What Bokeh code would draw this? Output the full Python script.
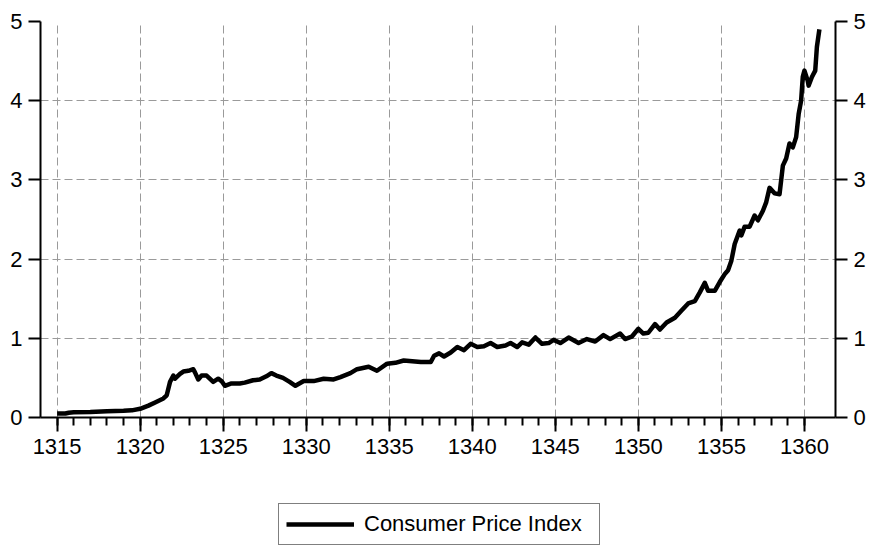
from bokeh.plotting import figure
from bokeh.models import Range1d, LinearAxis, FixedTicker, Legend, LegendItem
from bokeh.layouts import column
from bokeh.embed import file_html
from bokeh.resources import INLINE

# ---- data ----
years = [1315.0, 1315.5, 1315.7, 1316.0, 1317.0, 1318.0, 1319.0, 1319.5, 1320.0, 1320.5,
         1320.9, 1321.4, 1321.6, 1321.8, 1322.0, 1322.1, 1322.4, 1322.6, 1322.9, 1323.2,
         1323.3, 1323.5, 1323.7, 1324.0, 1324.4, 1324.7, 1324.9, 1325.1, 1325.5, 1326.0,
         1326.3, 1326.8, 1327.2, 1327.6, 1327.9, 1328.2, 1328.6, 1329.0, 1329.35, 1329.85,
         1330.45, 1331.05, 1331.65, 1332.06, 1332.66, 1333.06, 1333.76, 1334.26, 1334.87, 1335.37,
         1335.87, 1336.38, 1336.9, 1337.5, 1337.7, 1338.0, 1338.3, 1338.7, 1339.1, 1339.5,
         1339.9, 1340.3, 1340.7, 1341.1, 1341.5, 1342.0, 1342.3, 1342.7, 1343.0, 1343.4,
         1343.8, 1344.2, 1344.6, 1344.9, 1345.3, 1345.8, 1346.4, 1346.9, 1347.4, 1347.9,
         1348.3, 1348.9, 1349.2, 1349.6, 1350.0, 1350.3, 1350.6, 1351.0, 1351.3, 1351.7,
         1352.2, 1352.6, 1353.0, 1353.4, 1353.7, 1354.0, 1354.2, 1354.6, 1354.9, 1355.2,
         1355.4, 1355.6, 1355.8, 1356.1, 1356.2, 1356.4, 1356.7, 1357.0, 1357.2, 1357.5,
         1357.7, 1357.9, 1358.2, 1358.5, 1358.7, 1358.9, 1359.1, 1359.3, 1359.5, 1359.65,
         1359.8, 1359.9, 1360.0, 1360.2, 1360.25, 1360.45, 1360.65, 1360.75, 1360.9]
cpi = [0.05, 0.05, 0.06, 0.065, 0.07, 0.08, 0.085, 0.09, 0.11, 0.15,
       0.19, 0.24, 0.28, 0.45, 0.53, 0.49, 0.55, 0.58, 0.59, 0.61,
       0.57, 0.48, 0.53, 0.53, 0.45, 0.49, 0.46, 0.40, 0.43, 0.43,
       0.44, 0.47, 0.48, 0.52, 0.56, 0.53, 0.50, 0.45, 0.40, 0.46,
       0.46, 0.49, 0.48, 0.51, 0.56, 0.61, 0.64, 0.59, 0.68, 0.69,
       0.72, 0.71, 0.70, 0.70, 0.78, 0.81, 0.77, 0.82, 0.89, 0.85,
       0.93, 0.89, 0.90, 0.94, 0.89, 0.91, 0.94, 0.89, 0.95, 0.92,
       1.01, 0.93, 0.94, 0.98, 0.94, 1.01, 0.94, 0.99, 0.96, 1.04,
       0.99, 1.06, 0.99, 1.02, 1.12, 1.06, 1.07, 1.18, 1.11, 1.20,
       1.26, 1.35, 1.44, 1.47, 1.58, 1.70, 1.60, 1.60, 1.71, 1.81,
       1.86, 1.98, 2.19, 2.36, 2.30, 2.41, 2.41, 2.55, 2.49, 2.61,
       2.72, 2.90, 2.83, 2.82, 3.18, 3.27, 3.46, 3.41, 3.54, 3.83,
       4.00, 4.30, 4.38, 4.25, 4.19, 4.30, 4.38, 4.68, 4.90]
series_label = "Consumer Price Index"
x_major_ticks = [1315, 1320, 1325, 1330, 1335, 1340, 1345, 1350, 1355, 1360]
x_minor_ticks = list(range(1315, 1361))
y_ticks = [0, 1, 2, 3, 4, 5]
y_grid_ticks = [1, 2, 3, 4]

FONT = "Liberation Sans"
FS = "22px"
LINE_W = 4.5

p = figure(frame_width=795, frame_height=396,
           x_range=Range1d(1314.0, 1361.87), y_range=Range1d(0, 5),
           output_backend="svg", toolbar_location=None,
           min_border_left=40, min_border_right=39,
           min_border_top=21, min_border_bottom=66)
p.outline_line_color = None
p.background_fill_color = "white"
p.border_fill_color = "white"

r = p.line(years, cpi, line_color="black", line_width=LINE_W, line_join="round")

# x axis
xa = p.xaxis[0]
xa.ticker = FixedTicker(ticks=x_major_ticks, minor_ticks=x_minor_ticks)
xa.axis_line_width = 2
xa.major_tick_in = 0
xa.major_tick_out = 14
xa.major_tick_line_width = 2
xa.minor_tick_in = 0
xa.minor_tick_out = 8
xa.minor_tick_line_width = 2
xa.major_label_text_font = FONT
xa.major_label_text_font_size = FS
xa.major_label_text_color = "black"
xa.major_label_standoff = 7

def style_y(ax):
    ax.ticker = FixedTicker(ticks=y_ticks)
    ax.axis_line_width = 2
    ax.major_tick_in = 0
    ax.major_tick_out = 12
    ax.major_tick_line_width = 2
    ax.minor_tick_line_color = None
    ax.major_label_text_font = FONT
    ax.major_label_text_font_size = FS
    ax.major_label_text_color = "black"
    ax.major_label_standoff = 6

style_y(p.yaxis[0])
ra = LinearAxis()
style_y(ra)
p.add_layout(ra, "right")

# grids
p.xgrid.ticker = FixedTicker(ticks=x_major_ticks)
p.ygrid.ticker = FixedTicker(ticks=y_grid_ticks)
for g in (p.xgrid[0], p.ygrid[0]):
    g.grid_line_color = "#9a9a9a"
    g.grid_line_dash = "8 4"
    g.grid_line_width = 1

# ---- legend strip below the chart ----
# The strip's ranges do not include the data, so its copy of the series stays
# out of sight and only serves the legend entry.
p2 = figure(width=874, height=73, x_range=Range1d(0, 1), y_range=Range1d(0, 1),
            output_backend="svg", toolbar_location=None, min_border=0)
p2.outline_line_color = None
p2.axis.visible = False
p2.grid.visible = False
r2 = p2.line(years, cpi, line_color="black", line_width=LINE_W)

legend = Legend(items=[LegendItem(label=series_label, renderers=[r2])],
                location=(238, 11), orientation="vertical",
                border_line_color="black", border_line_width=1.5,
                background_fill_color="white", background_fill_alpha=1,
                padding=7, margin=0, spacing=0,
                glyph_width=68, glyph_height=24, label_standoff=10,
                label_width=228,
                label_text_font=FONT, label_text_font_size=FS,
                label_text_color="black")
p2.add_layout(legend)

layout = column(p, p2, spacing=0)
open("out.html", "w").write(file_html(layout, INLINE))
